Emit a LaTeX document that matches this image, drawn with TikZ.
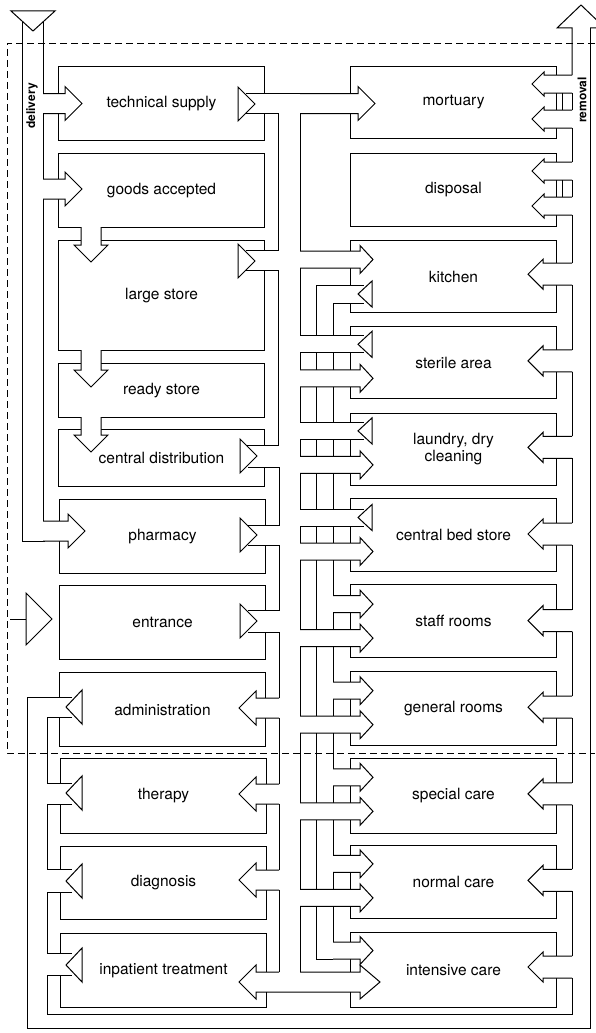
\documentclass[tikz,border=0pt]{standalone}
\usepackage{fontspec}
\setmainfont{TeX Gyre Heros}
\usetikzlibrary{positioning}

% pipe sizes: shaft half width, barb half width, head length, triangle half height and depth
\def\sh{10}\def\ah{17}\def\al{17}\def\th{17}\def\td{17}

% block arrows: shaft from #1 to barbs at #3, centre line #2
\newcommand{\arrR}[3]{%
  \fill[white] (#1,#2-\sh) -- (#3,#2-\sh) -- (#3,#2-\ah) -- (#3+\al,#2) -- (#3,#2+\ah) -- (#3,#2+\sh) -- (#1,#2+\sh) -- cycle;
  \draw[pipe] (#1,#2-\sh) -- (#3,#2-\sh) -- (#3,#2-\ah) -- (#3+\al,#2) -- (#3,#2+\ah) -- (#3,#2+\sh) -- (#1,#2+\sh);}
\newcommand{\arrL}[3]{%
  \fill[white] (#1,#2-\sh) -- (#3,#2-\sh) -- (#3,#2-\ah) -- (#3-\al,#2) -- (#3,#2+\ah) -- (#3,#2+\sh) -- (#1,#2+\sh) -- cycle;
  \draw[pipe] (#1,#2-\sh) -- (#3,#2-\sh) -- (#3,#2-\ah) -- (#3-\al,#2) -- (#3,#2+\ah) -- (#3,#2+\sh) -- (#1,#2+\sh);}
\newcommand{\arrD}[3]{%
  \fill[white] (#1-\sh,#2-1) -- (#1-\sh,#3) -- (#1-\ah,#3) -- (#1,#3+\al) -- (#1+\ah,#3) -- (#1+\sh,#3) -- (#1+\sh,#2-1) -- cycle;
  \draw[pipe] (#1-\sh,#2) -- (#1-\sh,#3) -- (#1-\ah,#3) -- (#1,#3+\al) -- (#1+\ah,#3) -- (#1+\sh,#3) -- (#1+\sh,#2);}
% outlined triangles (flow leaves a room)
\newcommand{\triR}[2]{\filldraw[pipe, fill=white] (#1,#2-\th) -- (#1+\td,#2) -- (#1,#2+\th) -- cycle;}
\newcommand{\triL}[2]{\filldraw[pipe, fill=white] (#1,#2-\th) -- (#1-\td,#2) -- (#1,#2+\th) -- cycle;}
% open a room wall where a pipe passes
\newcommand{\gapV}[3]{\fill[white] (#1-1.5,#2) rectangle (#1+1.5,#3);}

\begin{document}
\begin{tikzpicture}[
    x=1pt, y=-1pt,
    pipe/.style={line width=1pt, line join=miter},
    room/.style={draw, line width=1pt, minimum width=206pt, anchor=north west,
      inner sep=0pt, font=\fontsize{15.5}{17}\selectfont, align=center},
    side/.style={font=\bfseries\fontsize{12}{14}\selectfont}
]
\useasboundingbox (0,0) rectangle (595,1033);

% site border
\draw[line width=0.8pt, dash pattern=on 7pt off 4pt] (595,43) -- (7,43) -- (7,753) -- (595,753);

% left column
\node[room, minimum height=74pt] (tech) at (58,66) {technical supply};
\node[room, minimum height=74pt] (goods) at (58,153) {goods accepted};
\node[room, minimum height=110pt] (large) at (58,240) {large store};
\node[room, minimum height=54pt] (ready) at (58,363) {ready store};
\node[room, minimum height=57pt] (central) at (58,429) {central distribution};
\node[room, minimum height=74pt] (pharm) at (59,499) {pharmacy};
\node[room, minimum height=74pt] (entr) at (59,585) {entrance};
\node[room, minimum height=74pt] (admin) at (59,672) {administration};
\node[room, minimum height=75pt] (ther) at (60,758) {therapy};
\node[room, minimum height=73pt] (diag) at (60,846) {diagnosis};
\node[room, minimum height=74pt] (inpat) at (60,933) {inpatient treatment};

% right column
\node[room, minimum height=72pt] (mort) at (350,66) {mortuary};
\node[room, minimum height=73pt] (disp) at (350,153) {disposal};
\node[room, minimum height=72pt] (kitch) at (350,240) {kitchen};
\node[room, minimum height=72pt] (steril) at (350,326) {sterile area};
\node[room, minimum height=72pt] (laund) at (350,413) {laundry, dry\\cleaning};
\node[room, minimum height=73pt] (beds) at (350,498) {central bed store};
\node[room, minimum height=73pt] (staff) at (350,584) {staff rooms};
\node[room, minimum height=74pt] (gen) at (350,671) {general rooms};
\node[room, minimum height=75pt] (spec) at (350,758) {special care};
\node[room, minimum height=73pt] (norm) at (350,845) {normal care};
\node[room, minimum height=75pt] (inten) at (350,932) {intensive care};

% delivery
\draw[pipe] (22,15) -- (22,541) -- (45,541);
\draw[pipe] (43,15) -- (43,94);
\draw[pipe] (43,113) -- (43,179);
\draw[pipe] (43,199) -- (43,521);
\filldraw[pipe, fill=white] (11,11) -- (55,11) -- (33,31) -- cycle;
\arrR{43}{103.5}{65}
\arrR{43}{189}{65}
\arrR{43}{531}{68}
\node[side, rotate=90] (dlv) at (32,106) {delivery};

% stores chain
\arrD{91}{227}{245}
\arrD{91}{350}{370}
\arrD{91}{417}{435}

% collector between the columns
\gapV{264}{93.5}{113.5}
\gapV{264}{250}{270}
\gapV{264}{445}{467}
\gapV{265}{525}{545}
\gapV{265}{610}{632}
\draw[pipe] (246,93.5) -- (300,93.5);
\draw[pipe] (246,113.5) -- (278,113.5) -- (278,250) -- (246,250);
\draw[pipe] (246,270) -- (278,270) -- (278,445) -- (246,445);
\draw[pipe] (248,467) -- (279,467) -- (279,525) -- (248,525);
\draw[pipe] (248,545) -- (279,545) -- (279,610) -- (248,610);
\draw[pipe] (248,632) -- (279,632) -- (279,698);
\draw[pipe] (279,718) -- (279,784);
\draw[pipe] (279,804) -- (279,870);
\draw[pipe] (279,890) -- (279,972);
\arrR{300}{103.5}{358}
\triR{238}{104}
\triR{238}{261}
\triR{240}{456}
\triR{240}{535}
\triR{240}{621}
\arrL{279}{708}{256}
\arrL{279}{794}{256}
\arrL{279}{880}{256}

% bottom link inpatient -- intensive care
\fill[white] (256,972) rectangle (360,992);
\draw[pipe] (300,972) -- (360,972) -- (360,965) -- (380,982) -- (360,999) -- (360,992)
  -- (256,992) -- (256,999) -- (239,982) -- (256,965) -- (256,972) -- (279,972);

% bundle beside the right column
\def\sh{8.5}\def\ah{14}\def\al{13}\def\th{13}\def\td{14}
\draw[pipe] (300,113.5) -- (300,251);
\arrR{300}{259.5}{360}
\gapV{350}{285}{303}
\draw[pipe] (300,268) -- (300,335.8);
\draw[pipe] (316,335.8) -- (316,285) -- (364,285);
\draw[pipe] (333,335.8) -- (333,303) -- (364,303);
\triL{372}{294}
\foreach \T in {325.8, 412.4, 499} {
  \gapV{350}{\T+10}{\T+27}
  \draw[pipe] (300,\T+10) -- (364,\T+10) (300,\T+27) -- (364,\T+27);
  \foreach \xx in {300,316,333} \draw[pipe] (\xx,\T+27) -- (\xx,\T+44);
  \arrR{300}{\T+52.5}{360}
  \triL{372}{\T+18.5}
}
\foreach \T in {325.8, 412.4}
  \foreach \xx in {300,316,333} \draw[pipe] (\xx,\T+61) -- (\xx,\T+96.6);
\foreach \T in {585.6, 672.2, 758.8, 845.4} {
  \draw[pipe] (300,\T-25.6) -- (300,\T+44) (316,\T-25.6) -- (316,\T+44)
    (333,\T-25.6) -- (333,\T+10) (333,\T+27) -- (333,\T+44);
  \arrR{333}{\T+18.5}{360}
  \arrR{300}{\T+52.5}{360}
}
\draw[pipe] (300,906.4) -- (300,972) (316,906.4) -- (316,959) -- (333,959) (333,906.4) -- (333,942);
\arrR{333}{950.5}{360}

% treatment outputs to the left
\def\sh{10}\def\ah{17}\def\al{17}\def\th{17}\def\td{16}
\gapV{60}{697}{717}
\gapV{61}{783}{804}
\gapV{61}{869}{892}
\gapV{61}{953}{975}
\draw[pipe] (72,697) -- (27,697) -- (27,1028) -- (590,1028) -- (590,28);
\draw[pipe] (72,717) -- (47,717) -- (47,783) -- (72,783);
\draw[pipe] (72,804) -- (47,804) -- (47,869) -- (72,869);
\draw[pipe] (72,892) -- (47,892) -- (47,953) -- (72,953);
\draw[pipe] (72,975) -- (47,975) -- (47,1014) -- (572,1014) -- (572,978);
\triL{82}{707}
\triL{82}{793}
\triL{82}{881}
\triL{82}{965}

% visitors
\draw[pipe] (10,619) -- (26,619);
\filldraw[pipe, fill=white] (26,593) -- (52,619) -- (26,645) -- cycle;

% removal
\draw[pipe] (572,75) -- (572,28) -- (557,28) -- (581,5) -- (605,28) -- (590,28);
\node[side, rotate=90] (rmv) at (582,100) {removal};
\def\sh{9}\def\ah{12}\def\al{12}
\foreach \y in {84, 119, 171, 206} \arrL{572}{\y}{544}
\draw[pipe] (572,93) -- (572,110) (562,93) -- (562,110) (572,128) -- (572,162)
  (572,180) -- (572,197) (562,180) -- (562,197) (572,215) -- (572,263);
\def\sh{11}\def\ah{15}\def\al{15}
\foreach \T in {239.2, 325.8, 412.4, 499, 585.6, 672.2, 758.8, 845.4, 932}
  \arrL{572}{\T+35}{543}
\foreach \T in {239.2, 325.8, 412.4, 499, 585.6, 672.2, 758.8, 845.4}
  \draw[pipe] (572,\T+46) -- (572,\T+110.6);

\end{tikzpicture}
\end{document}
